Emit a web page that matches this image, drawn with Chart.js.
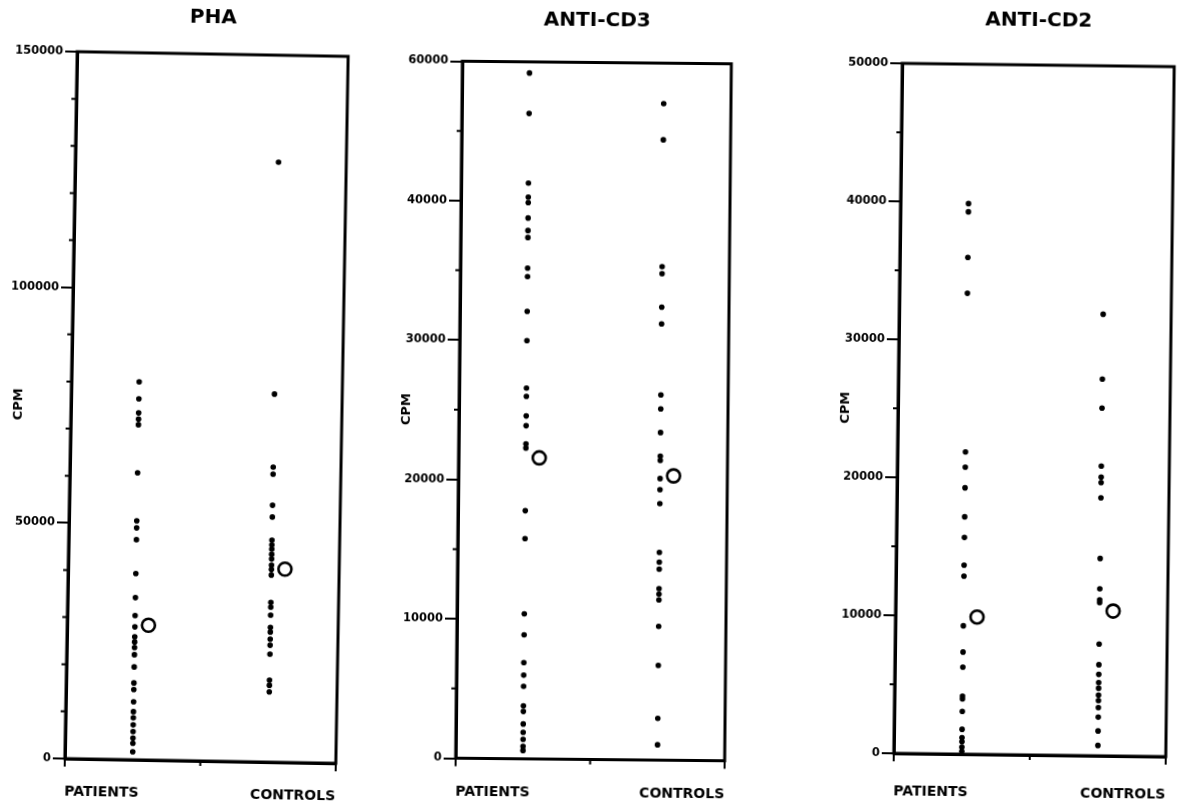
<!DOCTYPE html>
<html>
<head>
<meta charset="utf-8">
<script src="https://cdn.jsdelivr.net/npm/chart.js@4.4.1/dist/chart.umd.min.js"></script>
<style>
html,body{margin:0;padding:0;background:#fff;width:1194px;height:803px;overflow:hidden;}
canvas{position:absolute;top:0;}
</style>
</head>
<body>
<canvas id="c1" width="387" height="803" style="left:0px"></canvas>
<canvas id="c2" width="439" height="803" style="left:388px"></canvas>
<canvas id="c3" width="367" height="803" style="left:827px"></canvas>
<script>
// ---- data ----
const categories = ['PATIENTS', 'CONTROLS'];
const panelTitles = ['PHA', 'ANTI-CD3', 'ANTI-CD2'];
const yAxisTitle = 'CPM';

const phaPatients = [80200, 76600, 73600, 72300, 71100, 60900, 50700, 49200, 46700, 39500, 34400, 30600, 28200,
  26100, 25000, 23800, 22300, 19700, 16300, 14900, 12300, 10200, 8900, 7400, 6000, 4600, 3500, 1700];
const phaControls = [127300, 78100, 62600, 61100, 54500, 52000, 47100, 46100, 45200, 44100, 43100, 41800, 40900,
  39700, 33900, 32900, 31200, 28600, 27600, 26100, 24800, 22900, 17400, 16300, 14900];
const phaMeans = [28600, 41000];

const cd3Patients = [49200, 46300, 41300, 40300, 39900, 38800, 37900, 37400, 35200, 34600, 32100, 30000, 26600,
  26000, 24600, 23900, 22600, 22300, 17800, 15800, 10400, 8900, 6900, 6000, 5200, 3800, 3400, 2500, 1900, 1400, 900, 600];
const cd3Controls = [47100, 44500, 35400, 34900, 32500, 31300, 26200, 25200, 23500, 21800, 21500, 20200, 19400,
  18400, 14900, 14200, 13700, 12300, 11900, 11500, 9600, 6800, 3000, 1100];
const cd3Means = [21600, 20400];

const cd2Patients = [39900, 39300, 36000, 33400, 21900, 20800, 19300, 17200, 15700, 13700, 12900, 9300, 7400,
  6300, 4200, 4000, 3100, 1800, 1200, 900, 500, 200];
const cd2Controls = [32000, 27300, 25200, 21000, 20200, 19800, 18700, 14300, 12100, 11300, 11100, 8100, 6600,
  5900, 5300, 4900, 4400, 4000, 3500, 2800, 1800, 750];
const cd2Means = [9950, 10500];

const phaTickValues = [0, 50000, 100000, 150000];
const phaTickLabels = ['0', '50000', '100000', '150000'];
const cd3TickValues = [0, 10000, 20000, 30000, 40000, 50000];
const cd3TickLabels = ['0', '10000', '20000', '30000', '40000', '60000'];
const cd2TickValues = [0, 10000, 20000, 30000, 40000, 50000];
const cd2TickLabels = ['0', '10000', '20000', '30000', '40000', '50000'];

const phaMinorStep = 10000;
const cd3MinorStep = 5000;
const cd2MinorStep = 5000;

// category positions on a 0..4 linear axis
const columnX = [1, 3];
const xEdges = [0, 4];
const xMid = 2;
const meanOffset = 0.2;

// ---- styling / layout ----
Chart.defaults.font.family = "'DejaVu Sans', 'Liberation Sans', sans-serif";
Chart.defaults.font.weight = 'bold';
Chart.defaults.color = '#000';

const framePlugin = {
  id: 'frame',
  beforeDatasetsDraw(chart, args, opts) {
    const ctx = chart.ctx;
    const a = chart.chartArea;
    const ys = chart.scales.y, xs = chart.scales.x;
    ctx.save();
    ctx.strokeStyle = '#000';
    ctx.lineWidth = 3;
    ctx.strokeRect(a.left, a.top, a.right - a.left, a.bottom - a.top);
    ctx.lineWidth = 2;
    ctx.beginPath();
    for (let v = ys.min; v <= ys.max; v += opts.minorStep) {
      if (opts.majors.includes(v)) continue;
      const y = ys.getPixelForValue(v);
      ctx.moveTo(a.left - 5, y);
      ctx.lineTo(a.left, y);
    }
    const xm = xs.getPixelForValue(opts.xMinor);
    ctx.moveTo(xm, a.bottom);
    ctx.lineTo(xm, a.bottom + 5);
    ctx.stroke();
    ctx.restore();
  }
};

function makePanel(id, title, patients, controls, means, tickValues, tickLabels, minorStep, geom) {
  const canvas = document.getElementById(id);
  canvas.style.transformOrigin = geom.origin;
  canvas.style.transform = 'rotate(' + geom.rotate + 'deg)';
  const dot = { pointRadius: 2.8, pointBackgroundColor: '#000', pointBorderWidth: 0, showLine: false };
  new Chart(canvas, {
    type: 'scatter',
    data: {
      datasets: [
        Object.assign({ label: categories[0], data: patients.map(v => ({ x: columnX[0], y: v })) }, dot),
        Object.assign({ label: categories[1], data: controls.map(v => ({ x: columnX[1], y: v })) }, dot),
        {
          label: 'mean',
          data: means.map((v, i) => ({ x: columnX[i] + meanOffset, y: v })),
          pointRadius: 6.5, pointBorderWidth: 2.6, pointBorderColor: '#000',
          pointBackgroundColor: 'rgba(255,255,255,0)', showLine: false
        }
      ]
    },
    options: {
      responsive: false,
      animation: false,
      events: [],
      layout: { padding: { left: 0, right: geom.rightPad, top: 0, bottom: 0 } },
      plugins: {
        legend: { display: false },
        tooltip: { enabled: false },
        title: {
          display: true, text: title, fullSize: false,
          font: { size: 20, weight: 'bold' },
          padding: geom.titlePad, color: '#000'
        },
        frame: { minorStep: minorStep, majors: tickValues, xMinor: xMid }
      },
      scales: {
        x: {
          type: 'linear', min: xEdges[0], max: xEdges[1],
          afterBuildTicks: s => { s.ticks = xEdges.map(v => ({ value: v })); },
          afterFit: s => { s.height = geom.xHeight; },
          ticks: {
            callback: (v, i) => categories[i],
            align: 'inner', maxRotation: 0, autoSkip: false,
            padding: geom.xLabelPad, font: { size: 14, weight: 'bold' }, color: '#000'
          },
          grid: { drawOnChartArea: false, color: '#000', lineWidth: 2, tickLength: 8 },
          border: { display: true, color: '#000', width: 3 }
        },
        y: {
          type: 'linear', min: tickValues[0], max: tickValues[tickValues.length - 1],
          afterBuildTicks: s => { s.ticks = tickValues.map(v => ({ value: v })); },
          afterFit: s => { s.width = geom.yWidth; },
          ticks: {
            callback: (v, i) => tickLabels[i],
            autoSkip: false, padding: 2,
            font: { size: 11.5, weight: 'bold' }, color: '#000'
          },
          grid: { drawOnChartArea: false, color: '#000', lineWidth: 2, tickLength: 12 },
          border: { display: true, color: '#000', width: 3 },
          title: {
            display: true, text: yAxisTitle,
            font: { size: 13, weight: 'bold' }, color: '#000',
            padding: { top: 11, bottom: 0 }
          }
        }
      }
    },
    plugins: [framePlugin]
  });
}

makePanel('c1', panelTitles[0], phaPatients, phaControls, phaMeans, phaTickValues, phaTickLabels, phaMinorStep,
  { yWidth: 71, rightPad: 45, xHeight: 42, xLabelPad: 17, titlePad: { top: 6, bottom: 24 }, rotate: 1.0, origin: '206.5px 407.5px' });
makePanel('c2', panelTitles[1], cd3Patients, cd3Controls, cd3Means, cd3TickValues, cd3TickLabels, cd3MinorStep,
  { yWidth: 71, rightPad: 99, xHeight: 43.5, xLabelPad: 17, titlePad: { top: 9, bottom: 29.5 }, rotate: 0.55, origin: '205.5px 411px' });
makePanel('c3', panelTitles[2], cd2Patients, cd2Controls, cd2Means, cd2TickValues, cd2TickLabels, cd2MinorStep,
  { yWidth: 71, rightPad: 24, xHeight: 48, xLabelPad: 22, titlePad: { top: 9, bottom: 32 }, rotate: 0.7, origin: '207px 410px' });
</script>
</body>
</html>
